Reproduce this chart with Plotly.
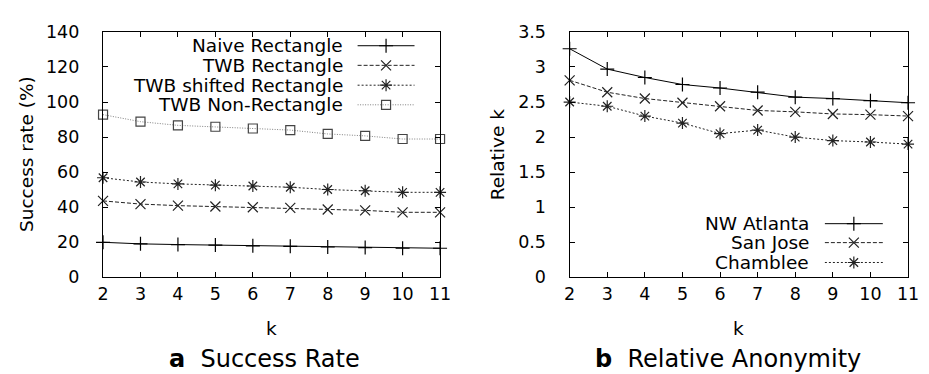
import plotly.graph_objects as go

# ---------------- data ----------------
k_values = [2, 3, 4, 5, 6, 7, 8, 9, 10, 11]

naive_rect = [20.0, 19.1, 18.7, 18.4, 18.0, 17.7, 17.3, 17.0, 16.6, 16.6]
twb_rect = [43.6, 41.8, 40.9, 40.4, 40.0, 39.6, 38.7, 38.2, 37.1, 37.1]
twb_shifted = [56.8, 54.4, 53.3, 52.6, 52.1, 51.4, 50.1, 49.4, 48.5, 48.5]
twb_nonrect = [92.8, 88.8, 86.7, 85.9, 84.9, 84.0, 81.8, 80.7, 78.9, 78.9]

nw_atlanta = [3.26, 2.97, 2.85, 2.75, 2.70, 2.64, 2.57, 2.55, 2.52, 2.49]
san_jose = [2.81, 2.64, 2.55, 2.49, 2.44, 2.38, 2.36, 2.33, 2.32, 2.30]
chamblee = [2.50, 2.44, 2.30, 2.20, 2.05, 2.10, 2.00, 1.95, 1.93, 1.90]

left_names = ["Naive Rectangle", "TWB Rectangle", "TWB shifted Rectangle", "TWB Non-Rectangle"]
right_names = ["NW Atlanta", "San Jose", "Chamblee"]
left_ticks_y = [0, 20, 40, 60, 80, 100, 120, 140]
right_ticks_y = [0, 0.5, 1, 1.5, 2, 2.5, 3, 3.5]
right_ticktext = ["0", "0.5", "1", "1.5", "2", "2.5", "3", "3.5"]

# ---------------- styles ----------------
W, H = 929, 374
FONT = "DejaVu Sans, Liberation Sans, Arial, sans-serif"
TICK_SIZE = 17.5
LEG_SIZE = 18.5
left_styles = [
    dict(symbol="cross-thin", dash="solid", color="black", mcolor="black"),
    dict(symbol="x-thin", dash="4px,2px", color="#222222", mcolor="#222222"),
    dict(symbol="asterisk", dash="2px,2px", color="#222222", mcolor="#222222"),
    dict(symbol="square-open", dash="1px,1.5px", color="#808080", mcolor="#444444"),
]
right_styles = left_styles[:3]

def px(x):
    return x / W

def py(y):
    return 1 - y / H

fig = go.Figure()

def marker_for(st):
    return dict(symbol=st["symbol"], size=10 if st["symbol"] != "square-open" else 9,
                color=st["mcolor"], line=dict(width=1.2, color=st["mcolor"]))

left_series = [naive_rect, twb_rect, twb_shifted, twb_nonrect]
for name, vals, st in zip(left_names, left_series, left_styles):
    fig.add_trace(go.Scatter(
        x=k_values, y=vals, name=name, mode="lines+markers",
        xaxis="x", yaxis="y", showlegend=False, cliponaxis=False,
        line=dict(color=st["color"], width=1, dash=st["dash"]),
        marker=marker_for(st),
    ))

right_series = [nw_atlanta, san_jose, chamblee]
for name, vals, st in zip(right_names, right_series, right_styles):
    fig.add_trace(go.Scatter(
        x=k_values, y=vals, name=name, mode="lines+markers",
        xaxis="x2", yaxis="y2", showlegend=False, cliponaxis=False,
        line=dict(color=st["color"], width=1, dash=st["dash"]),
        marker=marker_for(st),
    ))

# custom legends (text right, sample on the right, gnuplot style)
annotations = []
def add_legend(names, styles, text_right, x0, x1, rows):
    for name, st, ry in zip(names, styles, rows):
        annotations.append(dict(
            x=px(text_right), y=py(ry), xref="paper", yref="paper",
            text=name, showarrow=False, xanchor="right", yanchor="middle",
            font=dict(family=FONT, size=LEG_SIZE, color="black")))
        fig.add_trace(go.Scatter(
            x=[x0, (x0 + x1) / 2, x1], y=[ry, ry, ry], mode="lines",
            xaxis="x3", yaxis="y3", showlegend=False, hoverinfo="skip",
            line=dict(color=st["color"], width=1, dash=st["dash"])))
        fig.add_trace(go.Scatter(
            x=[(x0 + x1) / 2], y=[ry], mode="markers",
            xaxis="x3", yaxis="y3", showlegend=False, hoverinfo="skip",
            marker=marker_for(st)))

add_legend(left_names, left_styles, 337, 350, 408, [29.3, 50.0, 71.0, 91.7])
add_legend(right_names, right_styles, 812, 826, 885, [217.3, 237.3, 258.3])

# axis titles & captions
annotations += [
    dict(x=px(262), y=py(328), text="k"),
    dict(x=px(738), y=py(328), text="k"),
    dict(x=px(13), y=py(144), text="Success rate (%)", textangle=-90),
    dict(x=px(492), y=py(144), text="Relative k", textangle=-90),
    dict(x=px(255), y=py(360), text="<b>a</b>  Success Rate", font=dict(family=FONT, size=24, color="black")),
    dict(x=px(727), y=py(360), text="<b>b</b>  Relative Anonymity", font=dict(family=FONT, size=24, color="black")),
]
for a in annotations:
    a.setdefault("xref", "paper")
    a.setdefault("yref", "paper")
    a.setdefault("showarrow", False)
    a.setdefault("xanchor", "center")
    a.setdefault("yanchor", "middle")
    a.setdefault("font", dict(family=FONT, size=LEG_SIZE, color="black"))

ydom = [py(274), py(14.7)]
axis_common = dict(
    showline=True, linecolor="black", linewidth=1.3, mirror="allticks",
    ticks="inside", ticklen=5, tickwidth=1, tickcolor="black",
    showgrid=False, zeroline=False,
    tickfont=dict(family=FONT, size=TICK_SIZE, color="black"),
)

fig.update_layout(
    width=W, height=H,
    margin=dict(l=0, r=0, t=0, b=0),
    paper_bgcolor="white", plot_bgcolor="rgba(0,0,0,0)",
    xaxis=dict(domain=[px(90.7), px(434)], range=[2, 11], tickvals=k_values,
               anchor="y", ticklabelstandoff=1, **axis_common),
    yaxis=dict(domain=ydom, range=[0, 140], tickvals=left_ticks_y,
               anchor="x", ticklabelstandoff=19, **axis_common),
    xaxis2=dict(domain=[px(566), px(910.7)], range=[2, 11], tickvals=k_values,
                anchor="y2", ticklabelstandoff=1, **axis_common),
    yaxis2=dict(domain=ydom, range=[0, 3.5], tickvals=right_ticks_y, ticktext=right_ticktext,
                anchor="x2", ticklabelstandoff=19, **axis_common),
    xaxis3=dict(domain=[0, 1], range=[0, W], visible=False, anchor="y3", fixedrange=True),
    yaxis3=dict(domain=[0, 1], range=[H, 0], visible=False, anchor="x3", fixedrange=True),
    annotations=annotations,
    showlegend=False,
)

fig.write_html("out.html")
